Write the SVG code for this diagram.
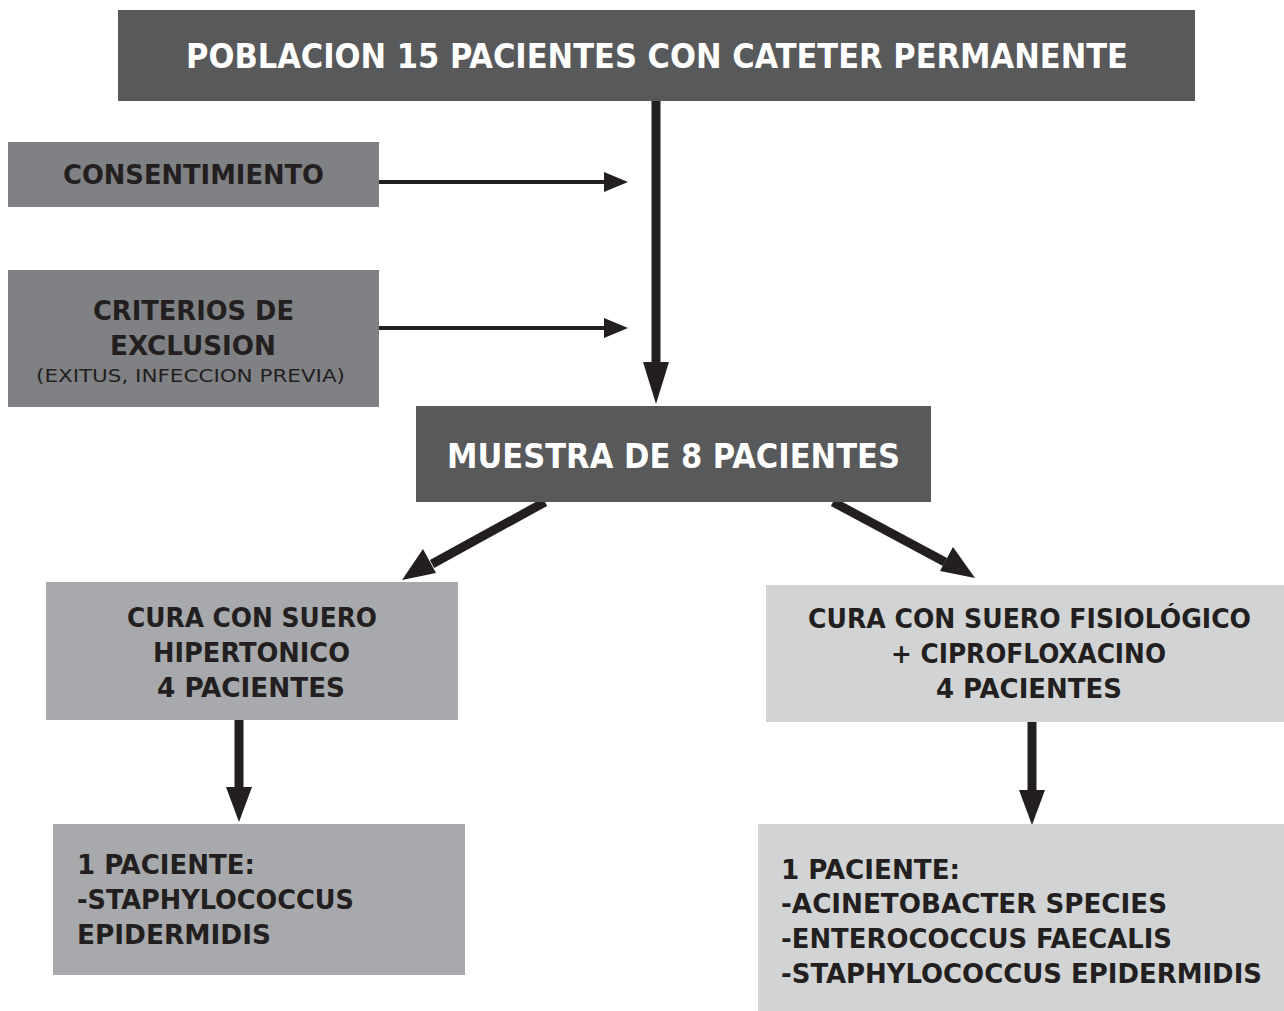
<svg xmlns="http://www.w3.org/2000/svg" width="1284" height="1011" viewBox="0 0 1284 1011">
<style>
.t{font-family:"DejaVu Sans Condensed","DejaVu Sans","Liberation Sans",sans-serif;font-weight:bold;}
.w{fill:#ffffff;font-size:33px;}
.d{fill:#231f20;font-size:26px;}
.s{fill:#231f20;font-size:18px;font-weight:normal;}
.dark{fill:#58595b;}
.mid{fill:#808184;}
.lg{fill:#a7a9ac;}
.xl{fill:#d1d3d4;}
.thin{stroke:#231f20;stroke-width:4;fill:none;}
.thick{stroke:#231f20;stroke-width:9;fill:none;}
.head{fill:#231f20;}
</style>
<rect width="1284" height="1011" fill="#ffffff"/>
<g id="connectors">
<line class="thin" x1="379" y1="182" x2="605" y2="182"/>
<polygon class="head" points="628,182 604,172 604,192"/>
<line class="thin" x1="379" y1="328" x2="605" y2="328"/>
<polygon class="head" points="628,328 604,318 604,338"/>
<line class="thick" x1="656" y1="101" x2="656" y2="365"/>
<polygon class="head" points="656,404 643,362 669,362"/>
<line class="thick" x1="545" y1="502" x2="432" y2="564"/>
<polygon class="head" points="402,580 423,549 436,573"/>
<line class="thick" x1="833" y1="502" x2="945" y2="562"/>
<polygon class="head" points="975,578 953,547 940,571"/>
<line class="thick" x1="239" y1="720" x2="239" y2="790"/>
<polygon class="head" points="239,822 226,787 252,787"/>
<line class="thick" x1="1032" y1="722" x2="1032" y2="792"/>
<polygon class="head" points="1032,825 1019,790 1045,790"/>
</g>
<g id="node-poblacion">
<rect class="dark" x="118" y="10" width="1077" height="91"/>
<text class="t w" x="186" y="68" textLength="942" lengthAdjust="spacingAndGlyphs">POBLACION 15 PACIENTES CON CATETER PERMANENTE</text>
</g>
<g id="node-consentimiento">
<rect class="mid" x="8" y="142" width="371" height="65"/>
<text class="t d" x="63" y="184" textLength="261" lengthAdjust="spacingAndGlyphs">CONSENTIMIENTO</text>
</g>
<g id="node-criterios">
<rect class="mid" x="8" y="270" width="371" height="137"/>
<text class="t d" x="93" y="320" textLength="201" lengthAdjust="spacingAndGlyphs">CRITERIOS DE</text>
<text class="t d" x="110" y="355" textLength="166" lengthAdjust="spacingAndGlyphs">EXCLUSION</text>
<text class="t s" x="36" y="382" textLength="309" lengthAdjust="spacingAndGlyphs">(EXITUS, INFECCION PREVIA)</text>
</g>
<g id="node-muestra">
<rect class="dark" x="416" y="406" width="515" height="96"/>
<text class="t w" x="447" y="468" textLength="453" lengthAdjust="spacingAndGlyphs">MUESTRA DE 8 PACIENTES</text>
</g>
<g id="node-hipertonico">
<rect class="lg" x="46" y="582" width="412" height="138"/>
<text class="t d" x="127" y="627" textLength="250" lengthAdjust="spacingAndGlyphs">CURA CON SUERO</text>
<text class="t d" x="153" y="662" textLength="197" lengthAdjust="spacingAndGlyphs">HIPERTONICO</text>
<text class="t d" x="157" y="697" textLength="188" lengthAdjust="spacingAndGlyphs">4 PACIENTES</text>
</g>
<g id="node-fisiologico">
<rect class="xl" x="766" y="585" width="518" height="137"/>
<text class="t d" x="808" y="628" textLength="443" lengthAdjust="spacingAndGlyphs">CURA CON SUERO FISIOLÓGICO</text>
<text class="t d" x="891" y="663" textLength="275" lengthAdjust="spacingAndGlyphs">+ CIPROFLOXACINO</text>
<text class="t d" x="936" y="698" textLength="186" lengthAdjust="spacingAndGlyphs">4 PACIENTES</text>
</g>
<g id="node-result-left">
<rect class="lg" x="53" y="824" width="412" height="151"/>
<text class="t d" x="77" y="874" textLength="178" lengthAdjust="spacingAndGlyphs">1 PACIENTE:</text>
<text class="t d" x="77" y="909" textLength="277" lengthAdjust="spacingAndGlyphs">-STAPHYLOCOCCUS</text>
<text class="t d" x="77" y="944" textLength="194" lengthAdjust="spacingAndGlyphs">EPIDERMIDIS</text>
</g>
<g id="node-result-right">
<rect class="xl" x="758" y="824" width="526" height="187"/>
<text class="t d" x="781" y="879" textLength="179" lengthAdjust="spacingAndGlyphs">1 PACIENTE:</text>
<text class="t d" x="781" y="913" textLength="386" lengthAdjust="spacingAndGlyphs">-ACINETOBACTER SPECIES</text>
<text class="t d" x="781" y="948" textLength="391" lengthAdjust="spacingAndGlyphs">-ENTEROCOCCUS FAECALIS</text>
<text class="t d" x="781" y="983" textLength="481" lengthAdjust="spacingAndGlyphs">-STAPHYLOCOCCUS EPIDERMIDIS</text>
</g>
</svg>
